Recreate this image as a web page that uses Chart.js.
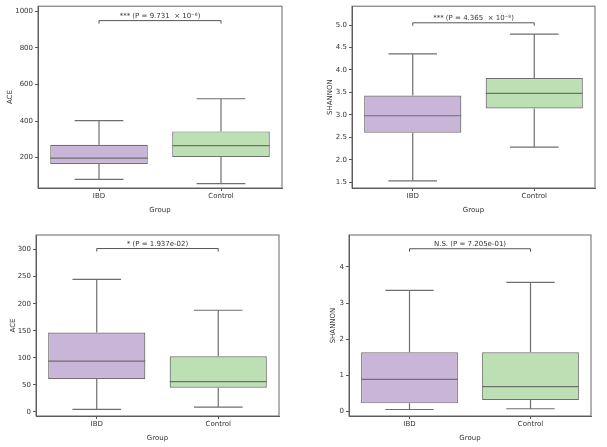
<!DOCTYPE html>
<html>
<head>
<meta charset="utf-8">
<script src="https://cdn.jsdelivr.net/npm/chart.js@4"></script>
<style>
  body { margin: 0; background: #fff; }
  .panel { position: absolute; }
</style>
</head>
<body>
<div class="panel" style="left:0;top:0;width:300px;height:222px"><canvas id="c1"></canvas></div>
<div class="panel" style="left:300px;top:0;width:307px;height:222px"><canvas id="c2"></canvas></div>
<div class="panel" style="left:0;top:225px;width:300px;height:222px"><canvas id="c3"></canvas></div>
<div class="panel" style="left:300px;top:225px;width:307px;height:222px"><canvas id="c4"></canvas></div>
<script>
// 그룹
const groups = ['IBD', 'Control'];

// 위 왼쪽: ACE
const ace1Low = [80, 57];
const ace1Q1 = [165, 203];
const ace1Med = [197, 265];
const ace1Q3 = [270, 343];
const ace1High = [402, 522];
const ace1Ticks = [200, 400, 600, 800, 1000];

// 위 오른쪽: SHANNON
const sh1Low = [1.53, 2.28];
const sh1Q1 = [2.60, 3.14];
const sh1Med = [2.98, 3.48];
const sh1Q3 = [3.43, 3.82];
const sh1High = [4.36, 4.80];
const sh1Ticks = [1.5, 2.0, 2.5, 3.0, 3.5, 4.0, 4.5, 5.0];

// 아래 왼쪽: ACE
const ace2Low = [5, 9];
const ace2Q1 = [61, 45];
const ace2Med = [94, 56];
const ace2Q3 = [147, 103];
const ace2High = [245, 188];
const ace2Ticks = [0, 50, 100, 150, 200, 250, 300];

// 아래 오른쪽: SHANNON
const sh2Low = [0.06, 0.08];
const sh2Q1 = [0.23, 0.32];
const sh2Med = [0.89, 0.69];
const sh2Q3 = [1.64, 1.64];
const sh2High = [3.35, 3.57];
const sh2Ticks = [0, 1, 2, 3, 4];

const boxColors = ['#c8b5d7', '#bcdfb4'];
const edge = '#6f6f6f';
const font = { family: 'DejaVu Sans', size: 7 };

// 수염, 중앙값, 유의성 표시 그리기
const boxPlugin = {
  id: 'boxExtras',
  afterDatasetsDraw(chart, args, opts) {
    const ctx = chart.ctx;
    const x = chart.scales.x, y = chart.scales.y;
    const meta = chart.getDatasetMeta(0);
    ctx.save();
    ctx.strokeStyle = edge;
    ctx.lineWidth = 1.2;
    meta.data.forEach((bar, i) => {
      const cx = x.getPixelForValue(i);
      const half = bar.width / 2;
      const yl = y.getPixelForValue(opts.low[i]);
      const yq1 = y.getPixelForValue(opts.q1[i]);
      const yq3 = y.getPixelForValue(opts.q3[i]);
      const yh = y.getPixelForValue(opts.high[i]);
      const ym = y.getPixelForValue(opts.med[i]);
      ctx.beginPath();
      ctx.moveTo(cx, yq1); ctx.lineTo(cx, yl);
      ctx.moveTo(cx, yq3); ctx.lineTo(cx, yh);
      ctx.moveTo(cx - half / 2, yl); ctx.lineTo(cx + half / 2, yl);
      ctx.moveTo(cx - half / 2, yh); ctx.lineTo(cx + half / 2, yh);
      ctx.moveTo(cx - half, ym); ctx.lineTo(cx + half, ym);
      ctx.stroke();
    });
    // 괄호
    const x0 = x.getPixelForValue(0), x1 = x.getPixelForValue(1);
    const yb = y.getPixelForValue(opts.bracket);
    ctx.strokeStyle = '#555';
    ctx.lineWidth = 1;
    ctx.beginPath();
    ctx.moveTo(x0, yb + 3); ctx.lineTo(x0, yb); ctx.lineTo(x1, yb); ctx.lineTo(x1, yb + 3);
    ctx.stroke();
    ctx.fillStyle = '#333';
    ctx.font = '7px "DejaVu Sans"';
    ctx.textAlign = 'center';
    ctx.textBaseline = 'bottom';
    ctx.fillText(opts.label, (x0 + x1) / 2, yb - 1);
    ctx.restore();
  }
};

function makeBox(id, title, low, q1, med, q3, high, ticks, yMin, yMax, bracket, label, lay) {
  new Chart(document.getElementById(id), {
    type: 'bar',
    data: {
      labels: groups,
      datasets: [{
        data: groups.map((g, i) => [q1[i], q3[i]]),
        backgroundColor: boxColors,
        borderColor: edge,
        borderWidth: 1.2,
        borderSkipped: false,
        barPercentage: 1,
        categoryPercentage: 0.8
      }]
    },
    options: {
      responsive: true,
      maintainAspectRatio: false,
      animation: false,
      layout: { padding: { left: lay.padLeft, right: lay.padRight, top: lay.padTop, bottom: lay.padBottom } },
      plugins: {
        legend: { display: false },
        tooltip: { enabled: false },
        boxExtras: { low, q1, med, q3, high, bracket, label }
      },
      scales: {
        x: {
          grid: { display: true, drawOnChartArea: false, tickLength: 3, color: '#555', offset: false },
          border: { display: true, color: '#555', width: 1 },
          ticks: { font, color: '#333', padding: 1 },
          title: { display: true, text: 'Group', font, color: '#333', padding: { top: 1, bottom: 0 } },
          afterFit: s => { s.height = 26; }
        },
        y: {
          min: yMin, max: yMax,
          afterBuildTicks: s => { s.ticks = ticks.map(v => ({ value: v })); },
          grid: { display: true, drawOnChartArea: false, tickLength: 3, color: '#555' },
          border: { display: true, color: '#555', width: 1 },
          ticks: {
            font, color: '#333', padding: 2,
            callback: v => lay.decimals ? v.toFixed(1) : String(v)
          },
          title: { display: true, text: title, font, color: '#333', padding: { top: 0, bottom: 0 } },
          afterFit: s => { s.width = lay.yWidth; }
        }
      }
    },
    plugins: [boxPlugin, {
      id: 'frame',
      afterDraw(chart) {
        const a = chart.chartArea, ctx = chart.ctx;
        ctx.save();
        ctx.strokeStyle = '#666';
        ctx.lineWidth = 1;
        ctx.strokeRect(a.left, a.top, a.right - a.left, a.bottom - a.top);
        ctx.restore();
      }
    }]
  });
}

makeBox('c1', 'ACE', ace1Low, ace1Q1, ace1Med, ace1Q3, ace1High, ace1Ticks, 33, 1029, 950,
  '*** (P = 9.731  × 10⁻⁶)',
  { padLeft: 6, yWidth: 32, padRight: 18, padTop: 6, padBottom: 8, decimals: false });
makeBox('c2', 'SHANNON', sh1Low, sh1Q1, sh1Med, sh1Q3, sh1High, sh1Ticks, 1.37, 5.42, 5.05,
  '*** (P = 4.365  × 10⁻⁸)',
  { padLeft: 26, yWidth: 26, padRight: 12, padTop: 6, padBottom: 8, decimals: true });
makeBox('c3', 'ACE', ace2Low, ace2Q1, ace2Med, ace2Q3, ace2High, ace2Ticks, -7.4, 327, 302,
  '* (P = 1.937e-02)',
  { padLeft: 9, yWidth: 27, padRight: 21, padTop: 10, padBottom: 5, decimals: false });
makeBox('c4', 'SHANNON', sh2Low, sh2Q1, sh2Med, sh2Q3, sh2High, sh2Ticks, -0.12, 4.88, 4.5,
  'N.S. (P = 7.205e-01)',
  { padLeft: 29, yWidth: 20, padRight: 16, padTop: 10, padBottom: 5, decimals: false });
</script>
</body>
</html>
